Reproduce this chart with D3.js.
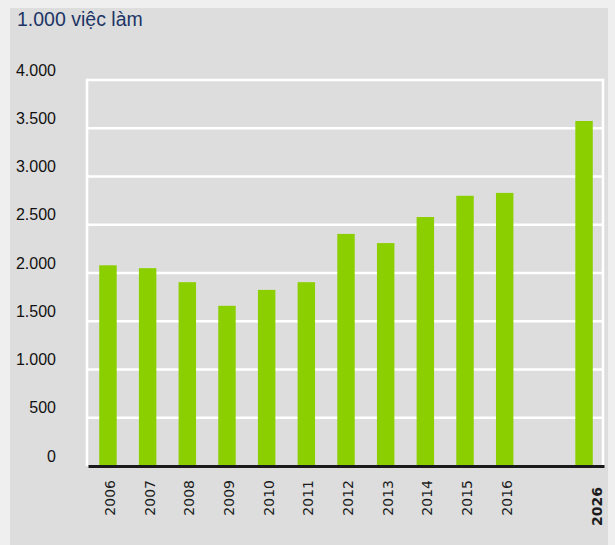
<!DOCTYPE html>
<html>
<head>
<meta charset="utf-8">
<script src="https://cdn.jsdelivr.net/npm/d3@7"></script>
<style>
  html, body { margin: 0; padding: 0; background: #efefef; }
  svg { display: block; }
</style>
</head>
<body>
<svg id="chart" width="615" height="545"></svg>
<script>
// Jobs (thousands) per year, with the 2026 projection at the end
const years = ["2006", "2007", "2008", "2009", "2010", "2011", "2012", "2013", "2014", "2015", "2016", "2026"];
const jobs = [2080, 2050, 1905, 1660, 1825, 1905, 2405, 2310, 2580, 2800, 2830, 3575];
const yTicks = [0, 500, 1000, 1500, 2000, 2500, 3000, 3500, 4000];
const unitLabel = "1.000 việc làm";

const svg = d3.select("#chart");
const W = 615, H = 545;

// Page background and grey panel
svg.append("rect").attr("width", W).attr("height", H).attr("fill", "#efefef");
svg.append("rect").attr("x", 10).attr("y", 8).attr("width", 598).attr("height", H - 8).attr("fill", "#dddddd");

const plot = { left: 88, right: 604, top: 80, bottom: 466 };

// A blank slot keeps the projection apart from the yearly series
const GAP = "gap";
const slots = [...years.slice(0, -1), GAP, years[years.length - 1]];

const x = d3.scaleBand()
  .domain(slots)
  .range([plot.left, plot.right])
  .paddingInner(0.56)
  .paddingOuter(0.283);

const y = d3.scaleLinear().domain([0, 4000]).range([plot.bottom, plot.top]);

const viLocale = d3.formatLocale({ decimal: ",", thousands: ".", grouping: [3], currency: ["", ""] });
const fmt = viLocale.format(",");

// White frame and gridlines
const grid = svg.append("g");
grid.selectAll("line.h")
  .data(yTicks.filter(d => d > 0))
  .join("line")
  .attr("x1", plot.left - 1).attr("x2", plot.right - 1)
  .attr("y1", d => y(d)).attr("y2", d => y(d))
  .attr("stroke", "#ffffff").attr("stroke-width", 2.6);
grid.append("line")
  .attr("x1", plot.left - 1).attr("x2", plot.left - 1)
  .attr("y1", y(4000) - 1.3).attr("y2", y(0))
  .attr("stroke", "#ffffff").attr("stroke-width", 2.6);
grid.append("line")
  .attr("x1", plot.right - 1).attr("x2", plot.right - 1)
  .attr("y1", y(4000) - 1.3).attr("y2", y(0))
  .attr("stroke", "#ffffff").attr("stroke-width", 2.6);

// Bars
svg.append("g")
  .selectAll("rect")
  .data(years.map((yr, i) => ({ yr, v: jobs[i] })))
  .join("rect")
  .attr("x", d => x(d.yr))
  .attr("width", x.bandwidth())
  .attr("y", d => y(d.v))
  .attr("height", d => y(0) - y(d.v))
  .attr("fill", "#8ccf00");

// Y axis labels
const yAxis = svg.append("g")
  .attr("transform", `translate(${plot.left},0)`)
  .call(d3.axisLeft(y).tickValues(yTicks).tickSize(0).tickPadding(32).tickFormat(fmt));
yAxis.select(".domain").remove();
yAxis.selectAll("text")
  .attr("dy", null)
  .attr("y", -5)
  .attr("fill", "#111")
  .style("font-family", "'Liberation Sans', Arial, sans-serif")
  .style("font-size", "16px");

// X axis: black baseline and rotated year labels
const xAxis = svg.append("g")
  .attr("transform", `translate(0,${plot.bottom})`)
  .call(d3.axisBottom(x).tickValues(years).tickSize(0));
xAxis.select(".domain")
  .attr("stroke", "#1a1a1a")
  .attr("stroke-width", 3);
const last = years[years.length - 1];
xAxis.selectAll(".tick text")
  .attr("y", null)
  .attr("dy", "0.36em")
  .attr("text-anchor", "end")
  .attr("fill", "#1c1c1c")
  .style("font-family", "'DejaVu Sans', sans-serif")
  .style("font-size", "14px")
  .style("font-weight", d => d === last ? "bold" : "normal")
  .attr("transform", d => d === last ? "translate(13,21) rotate(-90)" : "translate(2,14) rotate(-90)");

// Unit label
svg.append("text")
  .attr("x", 17).attr("y", 26)
  .attr("fill", "#1c3566")
  .style("font-family", "'Liberation Sans', Arial, sans-serif")
  .style("font-size", "19.5px")
  .text(unitLabel);
</script>
</body>
</html>
